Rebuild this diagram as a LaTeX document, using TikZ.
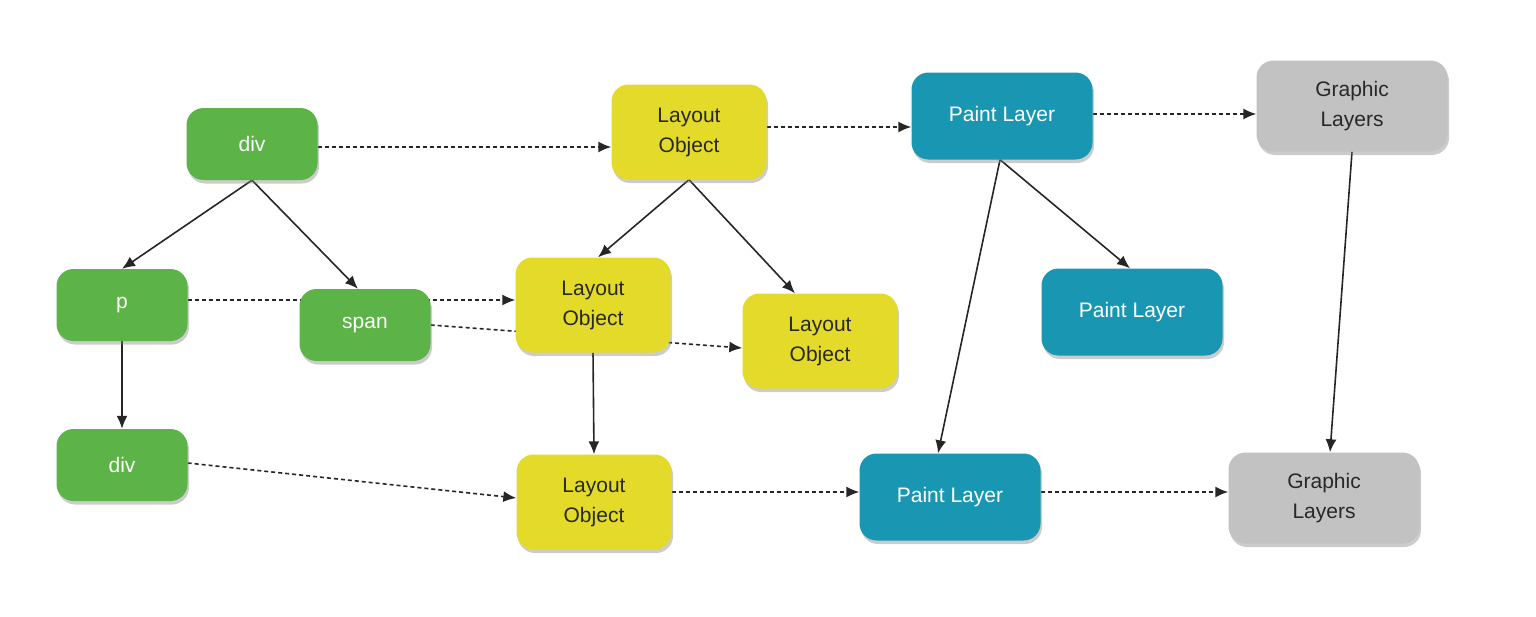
\documentclass[tikz,border=0pt]{standalone}
\usepackage{fontspec}
\setmainfont{Liberation Sans}
\usetikzlibrary{arrows.meta,shadows,backgrounds}
\definecolor{gr}{RGB}{92,180,72}
\definecolor{yl}{RGB}{228,218,42}
\definecolor{tl}{RGB}{24,150,178}
\definecolor{gy}{RGB}{194,194,194}
\definecolor{tx}{RGB}{40,40,40}
\tikzset{
 box/.style={rounded corners=17pt, align=center, inner sep=0pt,
   font=\fontsize{21}{30}\selectfont,
   drop shadow={opacity=0.4,shadow xshift=1.5pt,shadow yshift=-3.5pt}},
 domnode/.style={box, fill=gr, text=white, minimum width=131pt, minimum height=72pt},
 laynode/.style={box, fill=yl, text=tx, minimum width=155pt, minimum height=95pt},
 pntnode/.style={box, fill=tl, text=white, minimum width=181pt, minimum height=87pt},
 grfnode/.style={box, fill=gy, text=tx, minimum width=191pt, minimum height=91pt},
 tree/.style={line width=1.6pt, draw=black!85, -{Latex[length=13pt,width=11pt]}},
 flow/.style={line width=1.6pt, draw=black!85, dash pattern=on 4pt off 3pt, -{Latex[length=13pt,width=11pt]}},
}
\begin{document}
\begin{tikzpicture}[x=1pt,y=-1pt]
\useasboundingbox (0,0) rectangle (1536,616);
% DOM nodes
\node[domnode] (div1) at (252,144) {div};
\node[domnode] (p) at (122,305) {p};
\node[domnode] (span) at (365,325) {span};
\node[domnode] (div2) at (122,465) {div};
% Layout objects
\node[laynode] (lo1) at (689,132) {Layout\\Object};
\node[laynode] (lo2) at (593,305) {Layout\\Object};
\node[laynode] (lo3) at (820,341) {Layout\\Object};
\node[laynode] (lo4) at (594,502) {Layout\\Object};
% Paint layers
\node[pntnode] (pl1) at (1002,116) {Paint Layer};
\node[pntnode] (pl2) at (1132,312) {Paint Layer};
\node[pntnode] (pl3) at (950,497) {Paint Layer};
% Graphic layers
\node[grfnode] (gl1) at (1352,106) {Graphic\\Layers};
\node[grfnode] (gl2) at (1324,498) {Graphic\\Layers};
\begin{scope}[on background layer]
% tree edges
\draw[tree] (div1.south) -- (p.north);
\draw[tree] (div1.south) -- ([xshift=-7pt]span.north);
\draw[tree] (p.south) -- (div2.north);
\draw[tree] (lo1.south) -- ([xshift=5pt]lo2.north);
\draw[tree] (lo1.south) -- ([xshift=-25pt]lo3.north);
\draw[tree] (lo2.south) -- (lo4.north);
\draw[tree] ([xshift=-2pt]pl1.south) -- ([xshift=-2pt]pl2.north);
\draw[tree] ([xshift=-2pt]pl1.south) -- ([xshift=-12pt]pl3.north);
\draw[tree] (gl1.south) -- ([xshift=6pt]gl2.north);
% flow edges
\draw[flow] ([yshift=-3pt]div1.east) -- ([yshift=-3pt]div1.east -| lo1.west);
\draw[flow] ([yshift=5pt]p.east) -- ([yshift=5pt]p.east -| lo2.west);
\draw[flow] (span.east) -- ([yshift=-7pt]lo3.west);
\draw[flow] ([yshift=2pt]div2.east) -- ([yshift=4pt]lo4.west);
\draw[flow] ([yshift=5pt]lo1.east) -- ([yshift=5pt]lo1.east -| pl1.west);
\draw[flow] ([yshift=10pt]lo4.east) -- ([yshift=10pt]lo4.east -| pl3.west);
\draw[flow] ([yshift=2pt]pl1.east) -- ([yshift=2pt]pl1.east -| gl1.west);
\draw[flow] ([yshift=5pt]pl3.east) -- ([yshift=5pt]pl3.east -| gl2.west);
\end{scope}
\end{tikzpicture}
\end{document}
